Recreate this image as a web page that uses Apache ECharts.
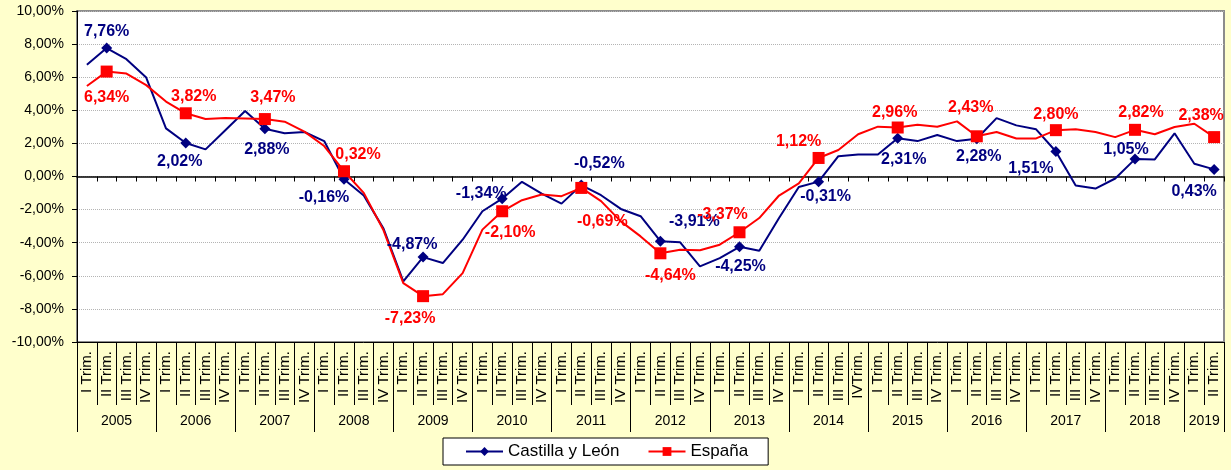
<!DOCTYPE html>
<html>
<head>
<meta charset="utf-8">
<script src="https://cdn.jsdelivr.net/npm/echarts@6/dist/echarts.min.js"></script>
<style>
  html, body { margin: 0; padding: 0; background: #ffffcc; }
  #chart { width: 1231px; height: 470px; }
</style>
</head>
<body>
<div id="chart"></div>
<script>
'use strict';
// quarterly year-on-year rate, Castilla y León vs España, 2005 I - 2019 II

const years = ['2005', '2006', '2007', '2008', '2009', '2010', '2011', '2012',
  '2013', '2014', '2015', '2016', '2017', '2018', '2019'];
const quartersPerYear = [4, 4, 4, 4, 4, 4, 4, 4, 4, 4, 4, 4, 4, 4, 2];
const quarterNames = ['I Trim.', 'II Trim.', 'III Trim.', 'IV Trim.'];

const cyl = [
  6.75, 7.76, 7.09, 5.98,
  2.91, 2.02, 1.64, 2.80,
  3.96, 2.88, 2.61, 2.69,
  2.14, -0.16, -1.15, -3.15,
  -6.34, -4.87, -5.23, -3.82,
  -2.10, -1.34, -0.32, -1.03,
  -1.64, -0.52, -1.13, -1.96,
  -2.40, -3.91, -3.98, -5.43,
  -4.93, -4.25, -4.49, -2.51,
  -0.63, -0.31, 1.23, 1.33,
  1.33, 2.31, 2.14, 2.51,
  2.14, 2.28, 3.53, 3.09,
  2.85, 1.51, -0.55, -0.73,
  -0.12, 1.05, 1.03, 2.61,
  0.77, 0.43,
];
const espana = [
  5.47, 6.34, 6.22, 5.52,
  4.53, 3.82, 3.47, 3.53,
  3.51, 3.47, 3.31, 2.71,
  1.84, 0.32, -0.99, -3.25,
  -6.44, -7.23, -7.11, -5.84,
  -3.21, -2.10, -1.43, -1.09,
  -1.19, -0.69, -1.49, -2.71,
  -3.62, -4.64, -4.42, -4.46,
  -4.12, -3.37, -2.51, -1.15,
  -0.42, 1.12, 1.60, 2.55,
  3.01, 2.96, 3.13, 3.01,
  3.33, 2.43, 2.69, 2.30,
  2.30, 2.80, 2.85, 2.69,
  2.38, 2.82, 2.55, 2.99,
  3.19, 2.38,
];

// label placement for the II Trim. points (offset from the marker, px)
const cylLabelOffset = [[0, -16], [-6, 19], [2, 21], [-20, 18], [-11, -13], [-21, -5], [18, -22],
  [34, -20], [1, 20], [7, 15], [6, 21], [2, 18], [-25, 17], [-9, -10], [-20, 22]];
const esLabelOffset = [[0, 26], [8, -17], [8, -21], [14, -17], [-13, 22], [8, 21], [21, 34],
  [10, 22], [-17, -18], [-20, -16], [-3, -15], [-6, -29], [0, -16], [6, -17], [-13, -22]];

// ---- axis label lists ---------------------------------------------------- //
const quarterLabels = [];
years.forEach((y, k) => { for (let q = 0; q < quartersPerYear[k]; q++) quarterLabels.push(quarterNames[q]); });
quarterLabels[39] = 'IVTrim.';   // as printed in the source

// year row: one point per quarter boundary, year name in the middle of its span
const yearAxis = new Array(quarterLabels.length + 1).fill('');
const yearBounds = new Set([0]);
let start = 0;
years.forEach((y, k) => {
  const n = quartersPerYear[k];
  yearAxis[start + n / 2] = y;
  start += n;
  yearBounds.add(start);
});

const pct = (v) => v.toFixed(2).replace('.', ',') + '%';
const FONT = "'Liberation Sans', Arial, sans-serif";

function points(values, offsets, color) {
  return values.map((v, i) => {
    if (i % 4 !== 1) return { value: v, symbol: 'none' };
    return {
      value: v,
      label: {
        show: true, position: 'inside', offset: offsets[(i - 1) / 4],
        formatter: (p) => pct(p.value), color: color,
        fontSize: 16, fontWeight: 'bold', fontFamily: FONT,
      },
    };
  });
}

const chart = echarts.init(document.getElementById('chart'));
chart.setOption({
  animation: false,
  backgroundColor: '#ffffcc',
  textStyle: { fontFamily: FONT },
  grid: {
    left: 77, right: 7, top: 11, height: 331,
    show: true, backgroundColor: '#ffffff', borderColor: '#8c8c8c', borderWidth: 2,
  },
  legend: {
    left: 443, top: 438,
    padding: [5, 20, 5, 22], itemGap: 28, itemWidth: 37, itemHeight: 11,
    borderColor: '#000', borderWidth: 1, backgroundColor: '#fff', borderRadius: 0,
    textStyle: { fontSize: 17, color: '#000', fontFamily: FONT },
    data: ['Castilla y León', 'España'],
  },
  xAxis: [
    { // quarter labels under the plot
      type: 'category', gridIndex: 0, position: 'bottom', data: quarterLabels,
      axisLine: { onZero: false, lineStyle: { color: '#000', width: 1 } },
      axisTick: { show: true, interval: 0, length: 63, lineStyle: { color: '#000' } },
      axisLabel: { interval: 0, rotate: 90, margin: 9, fontSize: 15, color: '#000' },
      splitLine: { show: false },
    },
    { // year row
      type: 'category', gridIndex: 0, position: 'bottom', data: yearAxis, boundaryGap: false,
      axisLine: { show: false, onZero: false },
      axisTick: { show: true, interval: (i) => yearBounds.has(i), length: 90, lineStyle: { color: '#000' } },
      axisLabel: { interval: 0, margin: 72, fontSize: 14, color: '#000' },
      splitLine: { show: false },
    },
    { // axis line through 0 %
      type: 'category', gridIndex: 0, position: 'top', data: quarterLabels,
      axisLine: { onZero: true, lineStyle: { color: '#000', width: 1.5 } },
      axisTick: { show: true, interval: 0, inside: true, length: 5, lineStyle: { color: '#000' } },
      axisLabel: { show: false },
      splitLine: { show: false },
    },
  ],
  yAxis: {
    type: 'value', min: -10, max: 10, interval: 2,
    axisLine: { show: true, lineStyle: { color: '#000' } },
    axisTick: { show: true, length: 5, lineStyle: { color: '#000' } },
    axisLabel: { formatter: pct, fontSize: 14, color: '#000', margin: 13 },
    splitLine: { show: true, lineStyle: { color: '#b4b4b4', type: 'dotted', width: 1 } },
  },
  series: [
    {
      name: 'Castilla y León', type: 'line', xAxisIndex: 0,
      symbol: 'diamond', symbolSize: 11, showAllSymbol: true,
      itemStyle: { color: '#000080' }, lineStyle: { color: '#000080', width: 2 },
      data: points(cyl, cylLabelOffset, '#000080'),
    },
    {
      name: 'España', type: 'line', xAxisIndex: 0,
      symbol: 'rect', symbolSize: 12, showAllSymbol: true,
      itemStyle: { color: '#ff0000' }, lineStyle: { color: '#ff0000', width: 2 },
      data: points(espana, esLabelOffset, '#ff0000'),
    },
  ],
});
</script>
</body>
</html>
